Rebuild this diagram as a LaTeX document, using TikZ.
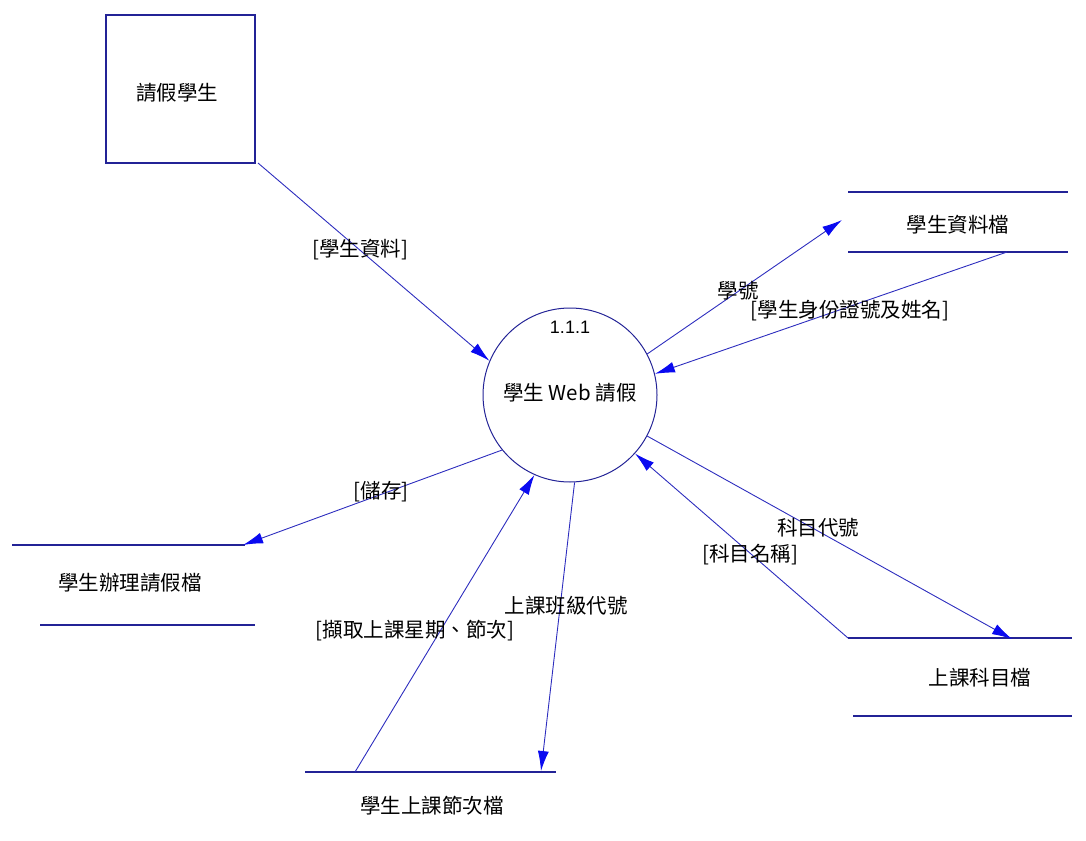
\documentclass[tikz,border=0pt]{standalone}
\usepackage{fontspec}
\setmainfont{Noto Sans CJK TC}
\newfontfamily\numfont{Liberation Sans}
\usetikzlibrary{arrows.meta}
\definecolor{navy}{RGB}{35,35,150}
\definecolor{flow}{RGB}{45,45,190}
\definecolor{tip}{RGB}{10,10,240}
\begin{document}
\begin{tikzpicture}[x=1pt,y=-1pt,
  txt/.style={font=\fontsize{20.5}{23}\selectfont, inner sep=1pt},
  storeline/.style={draw=navy, line width=1.8pt},
  flowline/.style={draw=flow, line width=0.9pt, -{Latex[length=20pt,width=11pt,color=tip,fill=tip]}},
]
\useasboundingbox (0,0) rectangle (1086,840);
% external entity
\node[draw=navy, line width=1.8pt, minimum width=149pt, minimum height=148pt, inner sep=0pt] (ent) at (180.5,89) {};
\node[txt] (entl) at (177,93) {請假學生};
% process
\node[draw=navy, line width=1pt, circle, minimum size=174pt, inner sep=0pt] (c) at (570,395) {};
\node[txt, font=\numfont\fontsize{18}{20}\selectfont] (cnum) at (570,327) {1.1.1};
\node[txt] (cname) at (570,393) {學生 Web 請假};
% data stores
\node[txt] (s1) at (958,225) {學生資料檔};
\draw[storeline] (848,192) -- (1068,192);
\draw[storeline] (848,252) -- (1068,252);
\node[txt] (s2) at (130,583) {學生辦理請假檔};
\draw[storeline] (12,545) -- (245,545);
\draw[storeline] (40,625) -- (255,625);
\node[txt] (s3) at (980,678) {上課科目檔};
\draw[storeline] (848,638) -- (1072,638);
\draw[storeline] (853,716) -- (1072,716);
\node[txt] (s4) at (432,806) {學生上課節次檔};
\draw[storeline] (305,772) -- (556,772);
% connector end points on the store lines
\coordinate (e1) at (258,163);
\coordinate (s1in) at (842,220);
\coordinate (s1out) at (1007,252);
\coordinate (s2in) at (243,545);
\coordinate (s4out) at (355,772);
\coordinate (s4in) at (541,771);
\coordinate (s3in) at (1012,639);
\coordinate (s3out) at (848,638);
% flows
\draw[flowline] (e1) -- (c.157);
\node[txt] (l1) at (360,250) {[學生資料]};
\draw[flowline] (c.28) -- (s1in);
\node[txt] (l2) at (738,291) {學號};
\draw[flowline] (s1out) -- (c.14);
\node[txt] (l3) at (850,311) {[學生身份證號及姓名]};
\draw[flowline] (c.-141) -- (s2in);
\node[txt] (l4) at (381,492) {[儲存]};
\draw[flowline] (s4out) -- (c.-114);
\node[txt] (l5) at (415,631) {[擷取上課星期、節次]};
\draw[flowline] (c.-87) -- (s4in);
\node[txt] (l6) at (566,606) {上課班級代號};
\draw[flowline] (c.-28) -- (s3in);
\node[txt] (l7) at (818,528) {科目代號};
\draw[flowline] (s3out) -- (c.-42);
\node[txt] (l8) at (750,555) {[科目名稱]};
\end{tikzpicture}
\end{document}
